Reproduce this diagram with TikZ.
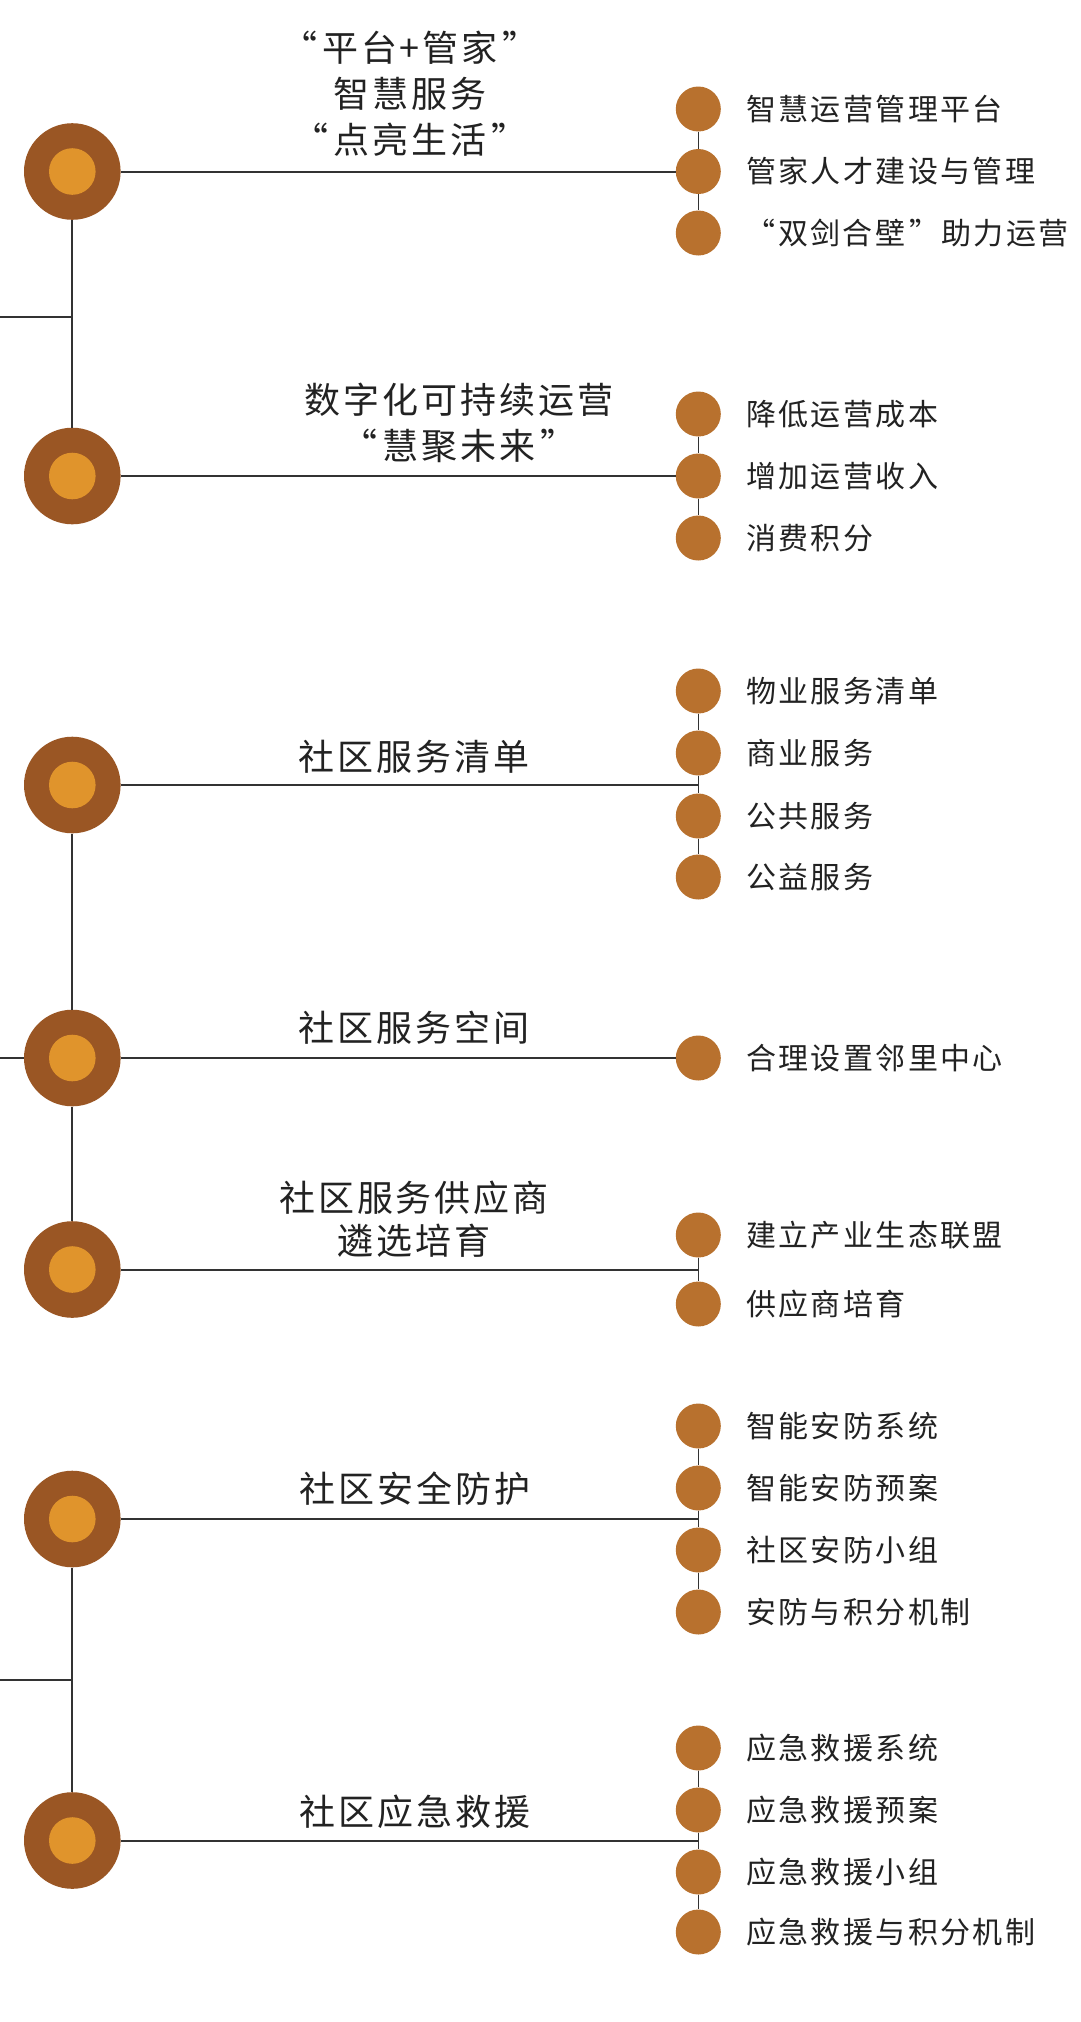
\documentclass[tikz,border=0pt]{standalone}
\usepackage{fontspec}
\setmainfont{Noto Sans CJK SC}
\newfontfamily\mainlabfont[LetterSpace=8]{Noto Sans CJK SC}
\newfontfamily\sublabfont[LetterSpace=8]{Noto Sans CJK SC}
\definecolor{outerc}{HTML}{9A5624}
\definecolor{innerc}{HTML}{E0942C}
\definecolor{smallc}{HTML}{B8712E}
\definecolor{linec}{HTML}{333333}
\definecolor{textc}{HTML}{222222}
\newcommand{\myLq}{“\hspace{5pt}}
\newcommand{\myRq}{\hspace{5pt}”}
\newcommand{\mySLq}{“\hspace{3pt}}
\newcommand{\mySRq}{\hspace{4pt}”\hspace{2pt}}
\tikzset{
  bigouter/.style={circle,fill=outerc,inner sep=0,minimum size=96.6pt},
  biginner/.style={circle,fill=innerc,inner sep=0,minimum size=46.6pt},
  smalldot/.style={circle,fill=smallc,inner sep=0,minimum size=45pt},
  mainlab/.style={align=center,text=textc,inner sep=0,font=\mainlabfont\fontsize{36}{46}\selectfont},
  mainlabb/.style={align=center,text=textc,inner sep=0,font=\mainlabfont\fontsize{36}{43}\selectfont},
  sublab/.style={anchor=west,text=textc,inner sep=0,font=\sublabfont\fontsize{30}{36}\selectfont},
  mainline/.style={draw=linec,line width=2pt},
  spine/.style={draw=linec,line width=1.5pt},
}
\begin{document}
\begin{tikzpicture}[x=1pt,y=-1pt]
\useasboundingbox (0,0) rectangle (1080,2022);
\fill[white] (0,0) rectangle (1080,2022);
% big circles
\foreach \n/\y in {1/171.5,2/476,3/785,4/1058,5/1269.5,6/1519,7/1840.5}{
  \node[bigouter] (b\n) at (72.3,\y) {};
  \node[biginner] (b\n i) at (b\n.center) {};
}
% small circles
\foreach \n/\y in {11/109,12/171.5,13/233,
                   21/414,22/476,23/538,
                   31/691,32/753,33/816,34/877,
                   41/1058,
                   51/1235,52/1304,
                   61/1426,62/1488,63/1550,64/1612,
                   71/1748,72/1810,73/1872,74/1932}{
  \node[smalldot] (s\n) at (698.3,\y) {};
}
% junctions and free ends
\coordinate (j3) at (698.3,785);
\coordinate (j5) at (698.3,1269.5);
\coordinate (j6) at (698.3,1519);
\coordinate (j7) at (698.3,1840.5);
\coordinate (la) at (0,317);
\coordinate (lb) at (72.3,317);
\coordinate (lc) at (0,1058);
\coordinate (ld) at (0,1680);
\coordinate (le) at (72.3,1680);
% main horizontal lines
\draw[mainline] (b1.east) -- (s12.west);
\draw[mainline] (b2.east) -- (s22.west);
\draw[mainline] (b3.east) -- (j3);
\draw[mainline] (b4.east) -- (s41.west);
\draw[mainline] (b5.east) -- (j5);
\draw[mainline] (b6.east) -- (j6);
\draw[mainline] (b7.east) -- (j7);
% trunk lines
\draw[mainline] (b1.south) -- (b2.north);
\draw[mainline] (b3.south) -- (b4.north);
\draw[mainline] (b4.south) -- (b5.north);
\draw[mainline] (b6.south) -- (b7.north);
\draw[mainline] (la) -- (lb);
\draw[mainline] (lc) -- (b4.west);
\draw[mainline] (ld) -- (le);
% spines
\draw[spine] (s11.south) -- (s12.north);
\draw[spine] (s12.south) -- (s13.north);
\draw[spine] (s21.south) -- (s22.north);
\draw[spine] (s22.south) -- (s23.north);
\draw[spine] (s31.south) -- (s32.north);
\draw[spine] (s32.south) -- (s33.north);
\draw[spine] (s33.south) -- (s34.north);
\draw[spine] (s51.south) -- (s52.north);
\draw[spine] (s61.south) -- (s62.north);
\draw[spine] (s62.south) -- (s63.north);
\draw[spine] (s63.south) -- (s64.north);
\draw[spine] (s71.south) -- (s72.north);
\draw[spine] (s72.south) -- (s73.north);
\draw[spine] (s73.south) -- (s74.north);
% main labels
\node[mainlab] (m1) at (410,94) {\myLq 平台+管家\myRq\\智慧服务\\\myLq 点亮生活\myRq};
\node[mainlab] (m2) at (459,423) {数字化可持续运营\\\myLq 慧聚未来\myRq};
\node[mainlab] (m3) at (414,757) {社区服务清单};
\node[mainlab] (m4) at (414,1028) {社区服务空间};
\node[mainlabb] (m5) at (414,1219) {社区服务供应商\\遴选培育};
\node[mainlab] (m6) at (415,1489) {社区安全防护};
\node[mainlab] (m7) at (415,1812) {社区应急救援};
% sub labels
\node[sublab] (t11) at (746,109) {智慧运营管理平台};
\node[sublab] (t12) at (746,171.5) {管家人才建设与管理};
\node[sublab] (t13) at (745,233) {\mySLq 双剑合壁\mySRq 助力运营};
\node[sublab] (t21) at (746,414) {降低运营成本};
\node[sublab] (t22) at (746,476) {增加运营收入};
\node[sublab] (t23) at (746,538) {消费积分};
\node[sublab] (t31) at (746,691) {物业服务清单};
\node[sublab] (t32) at (746,753) {商业服务};
\node[sublab] (t33) at (746,816) {公共服务};
\node[sublab] (t34) at (746,877) {公益服务};
\node[sublab] (t41) at (746,1058) {合理设置邻里中心};
\node[sublab] (t51) at (746,1235) {建立产业生态联盟};
\node[sublab] (t52) at (746,1304) {供应商培育};
\node[sublab] (t61) at (746,1426) {智能安防系统};
\node[sublab] (t62) at (746,1488) {智能安防预案};
\node[sublab] (t63) at (746,1550) {社区安防小组};
\node[sublab] (t64) at (746,1612) {安防与积分机制};
\node[sublab] (t71) at (746,1748) {应急救援系统};
\node[sublab] (t72) at (746,1810) {应急救援预案};
\node[sublab] (t73) at (746,1872) {应急救援小组};
\node[sublab] (t74) at (746,1932) {应急救援与积分机制};
\end{tikzpicture}
\end{document}
